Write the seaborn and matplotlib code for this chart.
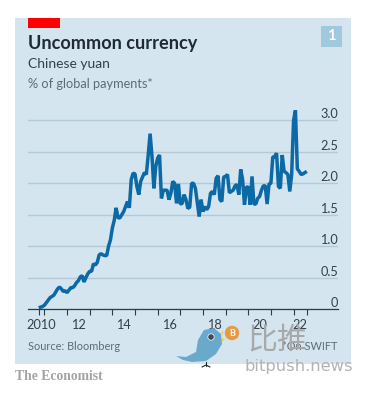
import numpy as np
import pandas as pd
import seaborn as sns
import matplotlib
matplotlib.use("Agg")
import matplotlib.pyplot as plt
from matplotlib.patches import Rectangle, Circle, Polygon, Ellipse

TITLE = "Uncommon currency"
SUBTITLE = "Chinese yuan"
UNIT = "% of global payments*"
SOURCE = "Source: Bloomberg"
NOTE = "*On SWIFT"
BRAND = "The Economist"

start_month = "2010-10-01"
yuan_share = [
    0.02, 0.03, 0.04, 0.06, 0.10, 0.14, 0.18, 0.20, 0.22, 0.27, 0.32, 0.35,
    0.32, 0.28, 0.29, 0.26, 0.30, 0.34, 0.34, 0.37, 0.42, 0.45, 0.51, 0.53,
    0.43, 0.50, 0.56, 0.60, 0.60, 0.72, 0.70, 0.74, 0.86, 0.88, 0.86, 0.85,
    0.85, 1.00, 1.10, 1.29, 1.41, 1.61, 1.45, 1.45, 1.50, 1.55, 1.63, 1.71,
    1.61, 2.06, 2.16, 2.15, 1.95, 1.82, 2.03, 2.10, 2.17, 2.14, 2.45, 2.79,
    2.43, 1.92, 2.27, 2.40, 2.45, 1.76, 1.89, 1.89, 1.89, 1.74, 1.84, 2.03,
    2.00, 1.68, 1.99, 1.67, 1.68, 1.82, 1.74, 1.60, 1.62, 2.00, 2.00, 1.92,
    1.69, 1.47, 1.74, 1.55, 1.63, 1.58, 1.63, 1.84, 1.87, 1.82, 2.08, 2.12,
    1.74, 1.71, 2.10, 2.11, 2.14, 1.85, 1.87, 1.89, 1.96, 1.98, 1.82, 2.22,
    2.06, 1.66, 1.94, 1.94, 1.66, 2.11, 1.67, 1.67, 1.76, 1.79, 1.89, 1.96,
    1.96, 1.67, 1.99, 2.00, 2.42, 2.42, 2.48, 1.95, 1.92, 2.45, 2.19, 2.17,
    2.14, 1.87, 2.14, 3.00, 3.16, 2.23, 2.19, 2.14, 2.15, 2.17, 2.19,
]
y_ticks = [0, 0.5, 1.0, 1.5, 2.0, 2.5, 3.0]
y_tick_labels = ["0", "0.5", "1.0", "1.5", "2.0", "2.5", "3.0"]
year_labels = ["2010", "12", "14", "16", "18", "20", "22"]
year_label_pos = [2010.85, 2012.5, 2014.5, 2016.5, 2018.5, 2020.5, 2022.3]
year_ticks = [2010.75] + list(range(2011, 2023)) + [2022.58]

dates = pd.date_range(start_month, periods=len(yuan_share), freq="MS")
frac_year = dates.year + (dates.month - 1) / 12
df = pd.DataFrame({"year": frac_year, "share": yuan_share})

sns.set_theme(style="white")
plt.rcParams["font.family"] = ["Lato", "Noto Sans CJK SC", "DejaVu Sans"]

W, H = 373, 393
PANEL = "#d4e5f0"
INK = "#1f2a33"
GREY = "#5d6b75"
fig = plt.figure(figsize=(W / 100, H / 100), dpi=100, facecolor="white")

def px_axes(z):
    a = fig.add_axes([0, 0, 1, 1], zorder=z)
    a.set_xlim(0, W)
    a.set_ylim(H, 0)
    a.axis("off")
    a.patch.set_alpha(0)
    return a

back = px_axes(0)
back.add_patch(Rectangle((15, 18), 336, 346, fc=PANEL, ec="none"))
back.add_patch(Rectangle((27.5, 18), 32, 10, fc="#ff0000", ec="none"))
back.add_patch(Rectangle((321, 26), 21, 21, fc="#a0c8de", ec="none"))
back.text(331.5, 36.5, "1", color="white", fontsize=10.5, fontweight="bold", ha="center", va="center")
back.text(28, 43, TITLE, color=INK, fontsize=13.1, fontweight="bold", ha="left", va="center")
back.text(28, 64.5, SUBTITLE, color="#33404a", fontsize=10.0, ha="left", va="center")
back.text(28, 84, UNIT, color=GREY, fontsize=9.2, ha="left", va="center")
back.text(28, 347, SOURCE, color=GREY, fontsize=7.9, ha="left", va="center")
back.text(338, 347, NOTE, color=GREY, fontsize=7.9, ha="right", va="center")
back.text(15, 376, BRAND, color="#a3a3a3", fontsize=9.8, fontweight="bold",
          family="Liberation Serif", ha="left", va="center")

# main axes: y=0 at 309 px, 3.0 at 120.5 px; 2011 at 44.4 px, 22.65 px per year
left, right, bottom, top = 28, 338, 309, 90
ax = fig.add_axes([left / W, 1 - bottom / H, (right - left) / W, (bottom - top) / H], zorder=1)
ax.patch.set_alpha(0)
sns.lineplot(data=df, x="year", y="share", ax=ax, color="#0b69a6", linewidth=2.5,
             legend=False, errorbar=None, solid_joinstyle="bevel", solid_capstyle="butt")
ax.set_xlim(2011 + (left - 44.4) / 22.65, 2011 + (right - 44.4) / 22.65)
ax.set_ylim(0, (bottom - top) / 62.85)
ax.set_xlabel("")
ax.set_ylabel("")
for s in ["top", "left", "right"]:
    ax.spines[s].set_visible(False)
ax.spines["bottom"].set_color("#2e3a44")
ax.spines["bottom"].set_linewidth(0.9)
ax.set_axisbelow(True)
ax.yaxis.grid(True, color="#b4c8d5", linewidth=1.0)
ax.xaxis.grid(False)

ax.set_xticks(year_ticks)
ax.set_xticklabels([""] * len(year_ticks))
ax.set_xticks(year_label_pos, labels=year_labels, minor=True)
ax.tick_params(axis="x", which="major", length=4.2, width=0.8, color="#2e3a44", bottom=True, pad=0)
ax.tick_params(axis="x", which="minor", length=0, labelsize=9.2, labelcolor="#33404a", pad=7, bottom=True)

ax.yaxis.tick_right()
ax.set_yticks(y_ticks, labels=y_tick_labels)
ax.tick_params(axis="y", length=0, labelsize=9.2, labelcolor="#33404a", pad=0)
for t in ax.get_yticklabels():
    t.set_ha("right")
    t.set_va("bottom")

# watermark
top_ax = px_axes(5)
top_ax.add_patch(Polygon([(176, 356), (186, 357), (196, 352), (198, 340), (204, 330), (214, 328),
                          (221, 334), (222, 344), (216, 354), (206, 361), (192, 362), (183, 360)],
                         closed=True, fc="#6aa9cc", ec="none"))
top_ax.add_patch(Polygon([(221, 332), (224, 331), (222, 336)], closed=True, fc="#f2d24b", ec="none"))
top_ax.add_patch(Polygon([(222, 338), (225, 339), (222, 342)], closed=True, fc="#f2d24b", ec="none"))
top_ax.add_patch(Circle((211, 337), 3.2, fc="#3d4a55", ec="#e6eef3", lw=0.6))
top_ax.plot([206, 206], [362, 366], color="#222222", lw=0.8)
top_ax.plot([202, 206, 210], [367, 365, 367], color="#222222", lw=0.8)
top_ax.add_patch(Circle((232, 333), 7.2, fc="#e39b45", ec="none"))
top_ax.text(232, 333, "B", color="white", fontsize=6.5, fontweight="bold", ha="center", va="center")
top_ax.text(247, 340, "比推", color="#a8a8a8", fontsize=21.5, style="italic",
            family=["Noto Sans CJK SC", "DejaVu Sans"], ha="left", va="center")
top_ax.text(245, 366, "bitpush.news", color="#b4b4b4", fontsize=11.8,
            family="DejaVu Sans", ha="left", va="center")

fig.savefig("out.png", dpi=100, facecolor="white")
